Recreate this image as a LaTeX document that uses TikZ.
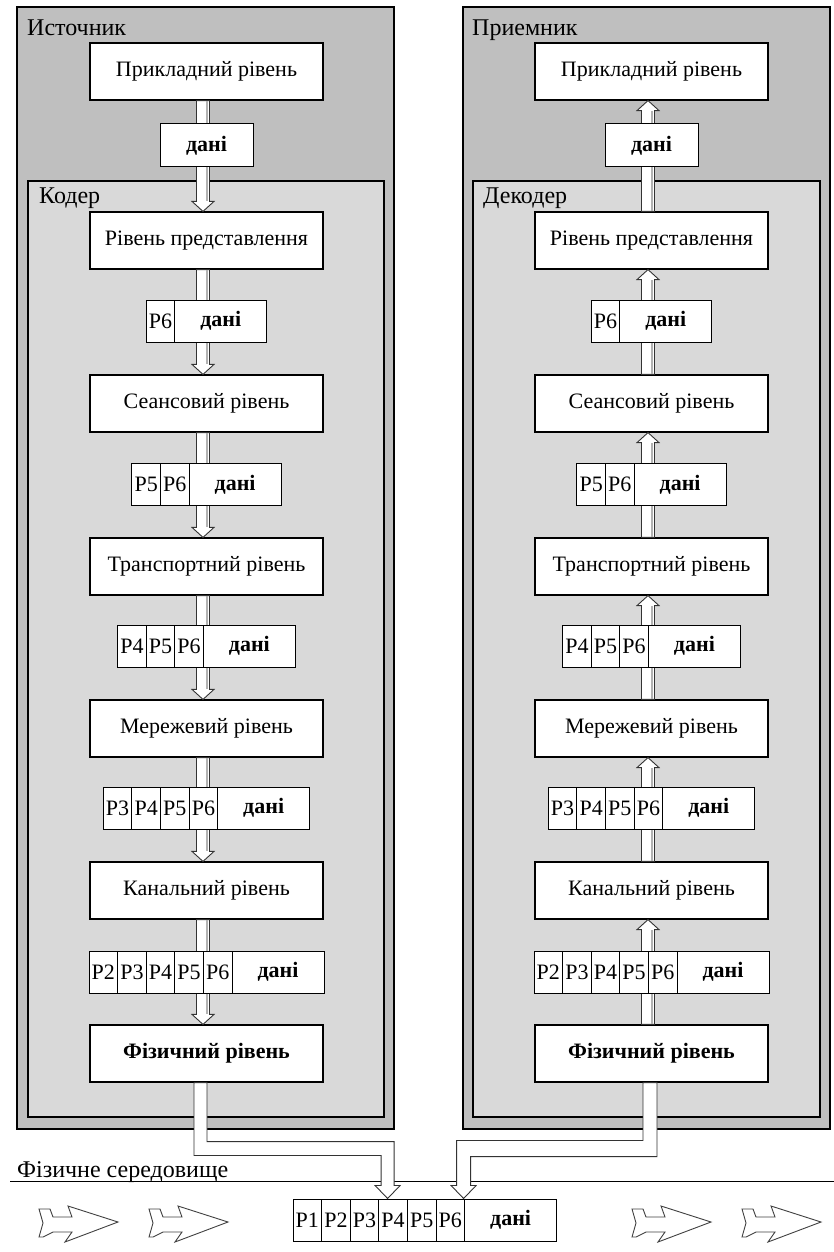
\documentclass[tikz,border=0pt]{standalone}
\usepackage{fontspec}
\setmainfont{Liberation Serif}
\usetikzlibrary{calc}
\tikzset{
  outerbox/.style={draw=black, line width=1.2pt, fill=black!25},
  innerbox/.style={draw=black, line width=1.2pt, fill=black!15},
  layerbox/.style={draw=black, line width=1.2pt, fill=white, minimum width=233pt, minimum height=57pt, inner sep=0pt, font=\fontsize{22}{26}\selectfont},
  physbox/.style={layerbox, font=\fontsize{22}{26}\selectfont\bfseries},
  cellbox/.style={draw=black, line width=1pt, fill=white, minimum width=28.6pt, minimum height=42pt, inner sep=0pt, font=\fontsize{22}{26}\selectfont},
  databox/.style={cellbox, minimum width=92pt, font=\fontsize{22}{26}\selectfont\bfseries},
  grouplabel/.style={anchor=base west, inner sep=0pt, font=\fontsize{24}{28}\selectfont},
  shaft/.style={draw=black!80, line width=0.9pt, fill=white, line join=miter},
  shade/.style={draw=black!30, line width=1.6pt},
  deco/.style={draw=black!75, line width=0.9pt, fill=white, line join=miter},
}
\newcommand{\pkt}[4]{%
  \pgfmathsetmacro{\pktw}{28.6*#4+92}%
  \pgfmathsetmacro{\pktl}{#2-\pktw/2}%
  \foreach \i in {1,...,#4}{%
    \pgfmathtruncatemacro{\pktidx}{6-#4+\i}%
    \node[cellbox] (#1c\pktidx) at ({\pktl+28.6*\i-14.3}, #3) {P\pktidx};
  }%
  \node[databox] (#1d) at ({\pktl+28.6*#4+46}, #3) {дані};
}
\newcommand{\arrdown}[3]{%
  \draw[shaft] ($(#1.south)+(#3-6.5,0)$) -- ($(#2.north)+(#3-6.5,-10)$) -- ($(#2.north)+(#3-11,-10)$) -- ($(#2.north)+(#3,0)$) -- ($(#2.north)+(#3+11,-10)$) -- ($(#2.north)+(#3+6.5,-10)$) -- ($(#1.south)+(#3+6.5,0)$) -- cycle;
  \draw[shade] ($(#1.south)+(#3+4,0.5)$) -- ($(#2.north)+(#3+4,-10.5)$);
}
\newcommand{\arrup}[3]{%
  \draw[shaft] ($(#1.north)+(#3-6.5,0)$) -- ($(#2.south)+(#3-6.5,10)$) -- ($(#2.south)+(#3-11,10)$) -- ($(#2.south)+(#3,0)$) -- ($(#2.south)+(#3+11,10)$) -- ($(#2.south)+(#3+6.5,10)$) -- ($(#1.north)+(#3+6.5,0)$) -- cycle;
  \draw[shade] ($(#1.north)+(#3+4,-0.5)$) -- ($(#2.south)+(#3+4,10.5)$);
}
\newcommand{\decoarrow}[1]{%
  \draw[deco, shift={(#1,1222)}] (0,-13) -- (11,-13) -- (14,-5) -- (33,-5) -- (29,-16) -- (79,0) -- (26,20) -- (33,10) -- (14,10) -- (4,15) -- (0,15) -- (4,1) -- cycle;
}
\begin{document}
\begin{tikzpicture}[x=1pt, y=-1pt]
\useasboundingbox (0,0) rectangle (834,1252);
% containers
\draw[outerbox] (17,7) rectangle (394,1129);
\draw[innerbox] (28,181) rectangle (384,1117);
\draw[outerbox] (463,7) rectangle (830,1129);
\draw[innerbox] (473,181) rectangle (820,1117);
\node[grouplabel] (srcl) at (27,36) {Источник};
\node[grouplabel] (codl) at (39,204) {Кодер};
\node[grouplabel] (rcvl) at (472,36) {Приемник};
\node[grouplabel] (decl) at (483,204) {Декодер};
% left column layers
\node[layerbox] (L1) at (206.5,71.5) {Прикладний рівень};
\node[layerbox] (L2) at (206.5,240.5) {Рівень представлення};
\node[layerbox] (L3) at (206.5,403.5) {Сеансовий рівень};
\node[layerbox] (L4) at (206.5,566.5) {Транспортний рівень};
\node[layerbox] (L5) at (206.5,728.5) {Мережевий рівень};
\node[layerbox] (L6) at (206.5,890.5) {Канальний рівень};
\node[physbox] (L7) at (206.5,1053.5) {Фізичний рівень};
% right column layers
\node[layerbox] (R1) at (651.5,71.5) {Прикладний рівень};
\node[layerbox] (R2) at (651.5,240.5) {Рівень представлення};
\node[layerbox] (R3) at (651.5,403.5) {Сеансовий рівень};
\node[layerbox] (R4) at (651.5,566.5) {Транспортний рівень};
\node[layerbox] (R5) at (651.5,728.5) {Мережевий рівень};
\node[layerbox] (R6) at (651.5,890.5) {Канальний рівень};
\node[physbox] (R7) at (651.5,1053.5) {Фізичний рівень};
% arrows
\arrdown{L1}{L2}{-3.5}
\arrdown{L2}{L3}{-3.5}
\arrdown{L3}{L4}{-3.5}
\arrdown{L4}{L5}{-3.5}
\arrdown{L5}{L6}{-3.5}
\arrdown{L6}{L7}{-3.5}
\arrup{R2}{R1}{-3.5}
\arrup{R3}{R2}{-3.5}
\arrup{R4}{R3}{-3.5}
\arrup{R5}{R4}{-3.5}
\arrup{R6}{R5}{-3.5}
\arrup{R7}{R6}{-3.5}
% packets
\node[databox, minimum width=93pt, minimum height=43pt] (Ld0) at (206.5,145.5) {дані};
\pkt{La}{206.5}{321}{1}
\pkt{Lb}{206.5}{484.5}{2}
\pkt{Lc}{206.5}{646}{3}
\pkt{Ld}{206.5}{808}{4}
\pkt{Le}{206.5}{972}{5}
\node[databox, minimum width=93pt, minimum height=43pt] (Rd0) at (651.5,145.5) {дані};
\pkt{Ra}{651.5}{321}{1}
\pkt{Rb}{651.5}{484.5}{2}
\pkt{Rc}{651.5}{646}{3}
\pkt{Rd}{651.5}{808}{4}
\pkt{Re}{651.5}{972}{5}
% physical medium
\draw[line width=1pt] (10,1181) coordinate (medl) -- (834,1181) coordinate (medr);
\node[grouplabel] (medlabel) at (17,1177) {Фізичне середовище};
\pkt{B}{424.8}{1220}{6}
\coordinate (lt) at ($(Bc4.north)+(-5.5,0)$);
\coordinate (rt) at ($(Bc6.north east)+(-1.5,0)$);
\draw[shaft] ($(L7.south)+(-12.5,0)$) |- ($(lt)+(-6.5,-43)$) -- ($(lt)+(-6.5,-13)$) -- ($(lt)+(-12.5,-13)$) -- (lt) -- ($(lt)+(12.5,-13)$) -- ($(lt)+(6.5,-13)$) |- ($(L7.south)+(0.5,59)$) -- ($(L7.south)+(0.5,0)$) -- cycle;
\draw[shaft] ($(R7.south)+(-8.5,0)$) |- ($(rt)+(-7,-58)$) -- ($(rt)+(-7,-13)$) -- ($(rt)+(-12.5,-13)$) -- (rt) -- ($(rt)+(12.5,-13)$) -- ($(rt)+(7,-13)$) |- ($(R7.south)+(5.5,74)$) -- ($(R7.south)+(5.5,0)$) -- cycle;
% decorative arrows
\decoarrow{39}
\decoarrow{149}
\decoarrow{632}
\decoarrow{742}
\end{tikzpicture}
\end{document}
